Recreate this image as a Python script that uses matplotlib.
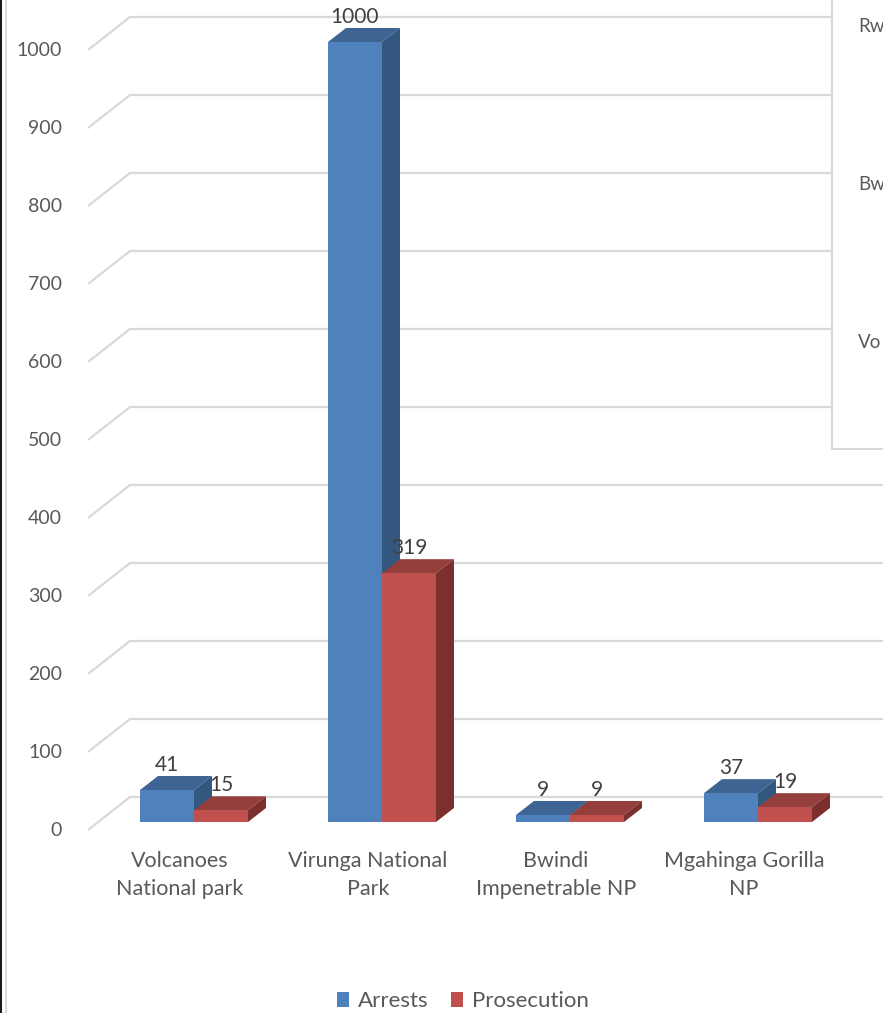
import matplotlib
matplotlib.use('Agg')
import matplotlib.pyplot as plt
from matplotlib.patches import Polygon, Rectangle

plt.rcParams['font.family'] = ['Lato', 'DejaVu Sans']

categories = ['Volcanoes\nNational park', 'Virunga National\nPark',
              'Bwindi\nImpenetrable NP', 'Mgahinga Gorilla\nNP']
arrests = [41, 1000, 9, 37]
prosecution = [15, 319, 9, 19]
yticks = list(range(0, 1001, 100))
legend_side = ['Rw', 'Bw', 'Vo']   # cropped legend of the neighbouring chart

TXT = '#595959'
GRID = '#D9D9D9'
faces = {
    'Arrests': ('#4F81BD', '#3D6492', '#34577F'),
    'Prosecution': ('#C0504D', '#953F3D', '#7C302E'),
}

W, H = 883, 1013
fig = plt.figure(figsize=(W / 100, H / 100), dpi=100)
ax = fig.add_axes([0, 0, 1, 1])
# pixel layout: group centre 194 + 188*i, value 0 at y=822, 0.78 px per unit
ax.set_xlim(-194 / 188, (W - 194) / 188)
ax.set_ylim((822 - H) / 0.78, 822 / 0.78)
ax.axis('off')

bw = 54 / 188                  # bar width
dx, dy = 18 / 188, 14 / 0.78   # bar depth offsets
gfx, gbx = -0.5638, -0.3404    # gridline front/back x
gfy, gby = -8 / 0.78, 25 / 0.78

# gridlines (floor-side diagonal + back wall)
for v in yticks:
    ax.plot([gfx, gbx, 4.0], [v + gfy, v + gby, v + gby], color=GRID, lw=1.6,
            zorder=1, solid_capstyle='butt')
    ax.text(-0.702, v + gfy, str(v), ha='right', va='center', fontsize=14, color=TXT)

# side legend box of the neighbouring chart (cropped at right)
fig.patches.append(Rectangle((832 / W, 1 - 449 / H), 0.2, 0.5, transform=fig.transFigure,
                             facecolor='white', edgecolor=GRID, lw=1.5, zorder=2))
for i, t in enumerate(legend_side):
    fig.text(858 / W, 1 - (27 + 158 * i) / H, t, fontsize=13.5, color=TXT, va='center')


def draw_faces(x0, v, name):
    front, top, side = faces[name]
    ax.add_patch(Polygon([(x0, v), (x0 + dx, v + dy), (x0 + bw + dx, v + dy), (x0 + bw, v)],
                         closed=True, facecolor=top, edgecolor='none', zorder=3))
    ax.add_patch(Polygon([(x0 + bw, 0), (x0 + bw + dx, dy), (x0 + bw + dx, v + dy), (x0 + bw, v)],
                         closed=True, facecolor=side, edgecolor='none', zorder=3))


handles = []
for k, (name, vals) in enumerate([('Arrests', arrests), ('Prosecution', prosecution)]):
    xs = [i - bw + k * bw for i in range(len(vals))]
    for x0, v in zip(xs, vals):
        draw_faces(x0, v, name)
        ax.text(x0 + bw / 2, v + dy + 14, str(v), ha='center', va='center',
                fontsize=15, color='#404040', zorder=6)
    b = ax.bar(xs, vals, width=bw, align='edge', color=faces[name][0], zorder=4, label=name)
    handles.append(b)

for i, c in enumerate(categories):
    ax.text(i - 0.0745, -37, c, ha='center', va='top', fontsize=15.5, color=TXT,
            linespacing=1.5)

fig.legend(handles=handles, loc='center', bbox_to_anchor=(463 / W, 1 - 1001 / H), ncol=2,
           frameon=False, fontsize=16, handlelength=0.55, handleheight=0.65,
           handletextpad=0.4, columnspacing=1.0, labelcolor=TXT)

# window edge on the left
fig.add_artist(plt.Line2D([1 / W, 1 / W], [0, 1], color='#1a1a1a', lw=1.5,
                          transform=fig.transFigure))
fig.add_artist(plt.Line2D([6 / W, 6 / W], [0, 1], color='#D4DDD6', lw=1.5,
                          transform=fig.transFigure))

fig.savefig('out.png', dpi=100)
